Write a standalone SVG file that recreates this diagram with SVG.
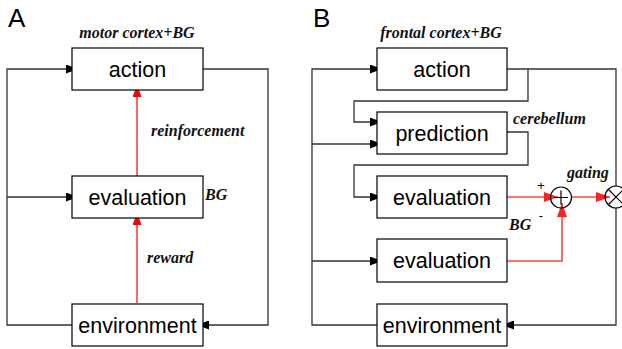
<svg xmlns="http://www.w3.org/2000/svg" width="622" height="349" viewBox="0 0 622 349">
<style>
.box{fill:#fff;stroke:#000;stroke-width:1.2}
.lbl{font-family:"Liberation Sans",Arial,sans-serif;font-size:21.5px;fill:#000;text-anchor:middle}
.it{font-family:"Liberation Serif","Times New Roman",serif;font-style:italic;font-weight:bold;font-size:16px;fill:#111}
.big{font-family:"Liberation Sans",Arial,sans-serif;font-size:26px;fill:#000}
.sm{font-family:"Liberation Sans",Arial,sans-serif;font-size:13px;fill:#000;text-anchor:middle}
.ln{fill:none;stroke:#333;stroke-width:1.3}
.rA{fill:none;stroke:#f00;stroke-width:1.2}
.rB{fill:none;stroke:#f44;stroke-width:1.6}
.circ{fill:none;stroke:#000;stroke-width:1.2}
</style>
<defs>
<marker id="ak" markerUnits="userSpaceOnUse" markerWidth="12" markerHeight="9" refX="12" refY="4.5" orient="auto"><path d="M0,0 L12,4.5 L0,9 z" fill="#000"/></marker>
<marker id="ar" markerUnits="userSpaceOnUse" markerWidth="12" markerHeight="9" refX="12" refY="4.5" orient="auto"><path d="M0,0 L12,4.5 L0,9 z" fill="#f00"/></marker>
<marker id="ar2" markerUnits="userSpaceOnUse" markerWidth="14" markerHeight="10" refX="14" refY="5" orient="auto"><path d="M0,0 L14,5 L0,10 z" fill="#f22"/></marker>
</defs>

<text class="big" x="8" y="27">A</text>
<text class="big" x="313" y="27">B</text>

<g id="connectors">
  <!-- Panel A -->
  <path class="ln" d="M72,325 H7 V69 H78" marker-end="url(#ak)"/>
  <path class="ln" d="M7,197 H78" marker-end="url(#ak)"/>
  <path class="ln" d="M203,69 H268 V325 H197" marker-end="url(#ak)"/>
  <path class="rA" d="M137,303 V213" marker-end="url(#ar)"/>
  <path class="rA" d="M137,176 V85" marker-end="url(#ar)"/>
  <!-- Panel B -->
  <path class="ln" d="M377,325 H312 V69 H382" marker-end="url(#ak)"/>
  <path class="ln" d="M312,144 H382" marker-end="url(#ak)"/>
  <path class="ln" d="M312,261 H382" marker-end="url(#ak)"/>
  <path class="ln" d="M507,69 H616 V186"/>
  <path class="ln" d="M616,208 V325 H502" marker-end="url(#ak)"/>
  <path class="ln" d="M528,69 V101 H354 V122 H382" marker-end="url(#ak)"/>
  <path class="ln" d="M507,132 H528 V165 H354 V197 H382" marker-end="url(#ak)"/>
  <path class="rB" d="M507,197 H558" marker-end="url(#ar2)"/>
  <path class="rB" d="M572,197 H610" marker-end="url(#ar2)"/>
  <path class="rB" d="M507,261 H562 V203" marker-end="url(#ar2)"/>
</g>

<!-- Panel A nodes -->
<g id="A-action">
  <rect class="box" x="72" y="48" width="131" height="42"/>
  <text class="lbl" x="137.5" y="76.5">action</text>
  <text class="it" x="137" y="38" text-anchor="middle">motor cortex+BG</text>
</g>
<g id="A-evaluation">
  <rect class="box" x="72" y="176" width="131" height="42"/>
  <text class="lbl" x="137.5" y="204.5">evaluation</text>
  <text class="it" x="205" y="200">BG</text>
</g>
<g id="A-environment">
  <rect class="box" x="72" y="304" width="131" height="42"/>
  <text class="lbl" x="137.5" y="332.5">environment</text>
</g>
<text class="it" x="151" y="136">reinforcement</text>
<text class="it" x="147" y="263">reward</text>

<!-- Panel B nodes -->
<g id="B-action">
  <rect class="box" x="377" y="48" width="130" height="42"/>
  <text class="lbl" x="442" y="76.5">action</text>
  <text class="it" x="441" y="38" text-anchor="middle">frontal cortex+BG</text>
</g>
<g id="B-prediction">
  <rect class="box" x="377" y="112" width="130" height="42"/>
  <text class="lbl" x="442" y="140.5">prediction</text>
  <text class="it" x="513" y="124">cerebellum</text>
</g>
<g id="B-evaluation1">
  <rect class="box" x="377" y="176" width="130" height="42"/>
  <text class="lbl" x="442" y="204.5">evaluation</text>
  <text class="it" x="509" y="230">BG</text>
</g>
<g id="B-evaluation2">
  <rect class="box" x="377" y="239" width="130" height="43"/>
  <text class="lbl" x="442" y="268">evaluation</text>
</g>
<g id="B-environment">
  <rect class="box" x="377" y="304" width="130" height="42"/>
  <text class="lbl" x="442" y="332.5">environment</text>
</g>
<g id="B-sum">
  <circle class="circ" cx="561" cy="197.5" r="10.5"/>
  <path class="circ" d="M554,197.5 H568 M561,190.5 V204.5"/>
  <text class="sm" x="541" y="190">+</text>
  <text class="sm" x="541" y="220">-</text>
</g>
<g id="B-gating">
  <circle class="circ" cx="616" cy="197" r="11"/>
  <path class="circ" d="M608.5,189.5 L623.5,204.5 M623.5,189.5 L608.5,204.5"/>
  <text class="it" x="567" y="178">gating</text>
</g>
</svg>
